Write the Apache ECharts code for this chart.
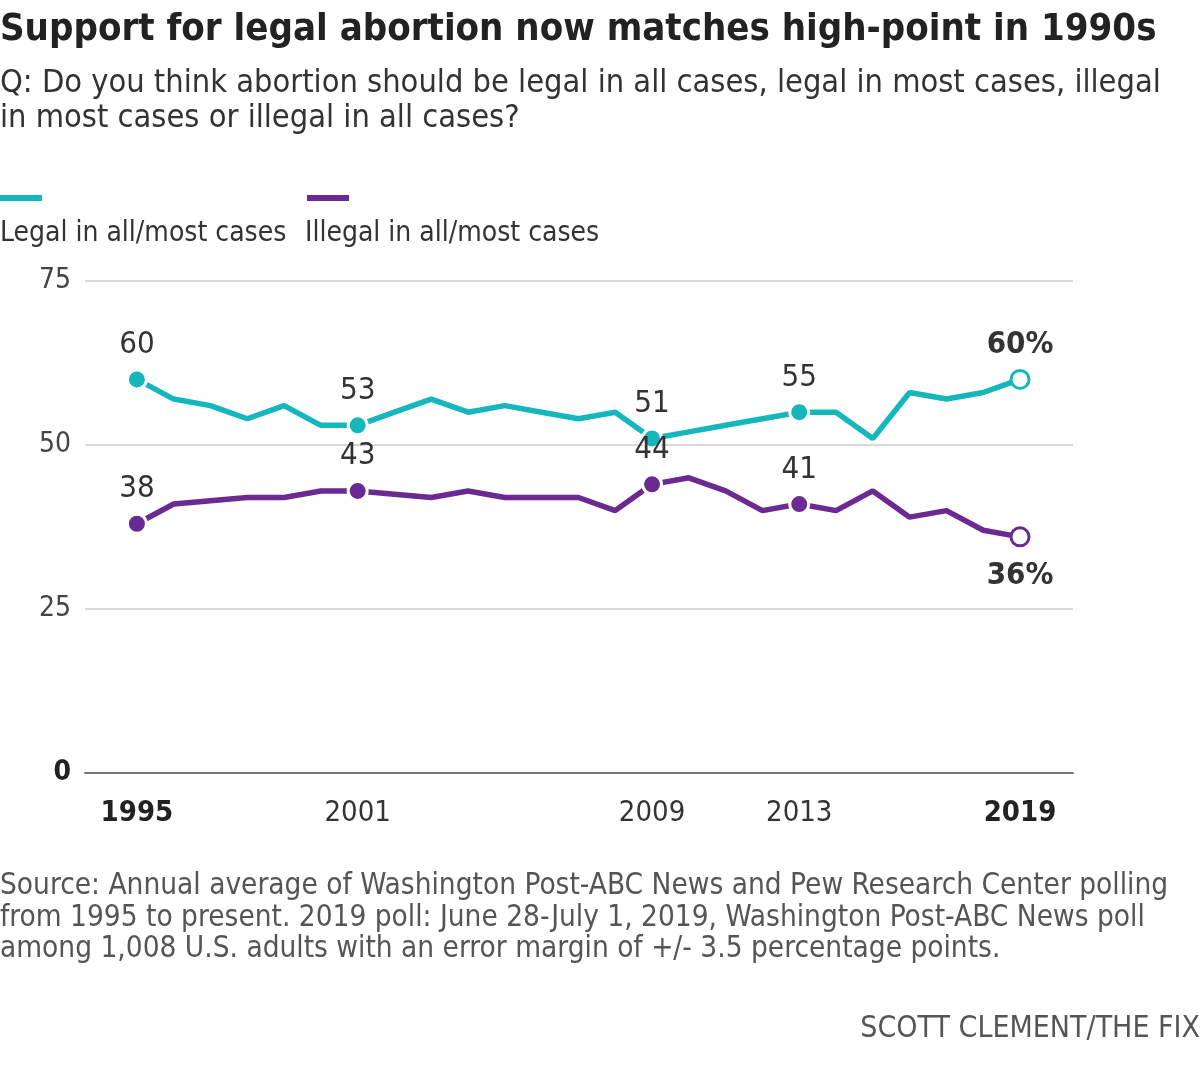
<!DOCTYPE html>
<html>
<head>
<meta charset="utf-8">
<script src="https://cdn.jsdelivr.net/npm/echarts@6/dist/echarts.min.js"></script>
<style>
html,body{margin:0;padding:0;background:#fff;}
#chart{width:1200px;height:1084px;}
</style>
</head>
<body>
<div id="chart"></div>
<script>
const years = [1995,1996,1997,1998,1999,2000,2001,2002,2003,2004,2005,2006,2007,2008,2009,2010,2011,2012,2013,2014,2015,2016,2017,2018,2019];
const legalValues = [60,57,56,54,56,53,53,55,57,55,56,55,54,55,51,52,53,54,55,55,51,58,57,58,60];
const illegalValues = [38,41,41.5,42,42,43,43,42.5,42,43,42,42,42,40,44,45,43,40,41,40,43,39,40,37,36];
const labeledYears = [1995,2001,2009,2013,2019];
const xTickLabels = [1995,2001,2009,2013,2019];
const boldXTicks = [1995,2019];
const seriesNames = ['Legal in all/most cases','Illegal in all/most cases'];
const colors = ['#16b6bd','#6a2a92'];

const FONT = '"Liberation Sans Narrow","DejaVu Sans Condensed",Arial,sans-serif';

function buildData(vals, color, lastBelow){
  return years.map((y,i)=>{
    const last = i === years.length-1;
    if (labeledYears.indexOf(y) >= 0){
      const below = last && lastBelow;
      return {
        value:[y, vals[i]],
        symbol:'circle',
        symbolSize: last ? 18 : 19,
        itemStyle: last ? {color:'#fff', borderColor:color, borderWidth:3} : {color:color, borderColor:'#fff', borderWidth:3},
        label:{
          show:true,
          position: below ? 'bottom' : 'top',
          distance: below ? 13 : 8,
          formatter: last ? vals[i] + '%' : String(vals[i]),
          fontFamily: FONT,
          fontSize: 31,
          fontWeight: last ? 'bold' : 'normal',
          color: '#333'
        }
      };
    }
    return {value:[y, vals[i]], symbol:'none'};
  });
}

const chart = echarts.init(document.getElementById('chart'), null, {renderer:'canvas'});
chart.setOption({
  animation:false,
  backgroundColor:'#fff',
  title:[
    {text:'Support for legal abortion now matches high-point in 1990s', left:0, top:11, padding:0,
     textStyle:{fontFamily:FONT, fontSize:38, fontWeight:'bold', color:'#222'}},
    {text:'Q: Do you think abortion should be legal in all cases, legal in most cases, illegal\nin most cases or illegal in all cases?', left:0, top:66, padding:0,
     textStyle:{fontFamily:FONT, fontSize:32.3, fontWeight:'normal', color:'#333', lineHeight:35}},
    {text:'Source: Annual average of Washington Post-ABC News and Pew Research Center polling\nfrom 1995 to present. 2019 poll: June 28-July 1, 2019, Washington Post-ABC News poll\namong 1,008 U.S. adults with an error margin of +/- 3.5 percentage points.', left:0, top:871, padding:0,
     textStyle:{fontFamily:FONT, fontSize:29.5, fontWeight:'normal', color:'#555', lineHeight:31.5}},
    {text:'SCOTT CLEMENT/THE FIX', right:0, top:1014, padding:0,
     textStyle:{fontFamily:FONT, fontSize:30, fontWeight:'normal', color:'#555'}}
  ],
  graphic:[
    {type:'rect', left:0, top:195, shape:{width:42, height:6}, style:{fill:colors[0]}},
    {type:'rect', left:307, top:195, shape:{width:42, height:6}, style:{fill:colors[1]}},
    {type:'text', left:0, top:220, style:{text:seriesNames[0], font:'28px ' + FONT, fill:'#333'}},
    {type:'text', left:305, top:220, style:{text:seriesNames[1], font:'28px ' + FONT, fill:'#333'}}
  ],
  grid:{left:85, right:127, top:281, bottom:311, containLabel:false},
  xAxis:{
    type:'value', min:1993.59, max:2020.44,
    splitLine:{show:false},
    axisLine:{show:true, onZero:false, lineStyle:{color:'#777', width:2}},
    axisTick:{show:false},
    axisLabel:{
      customValues: xTickLabels,
      margin: 26,
      fontFamily: FONT, fontSize: 29, color:'#333',
      formatter: v => boldXTicks.indexOf(v) >= 0 ? '{b|' + v + '}' : String(v),
      rich:{b:{fontFamily:FONT, fontSize:29, fontWeight:'bold', color:'#222'}}
    }
  },
  yAxis:{
    type:'value', min:0, max:75, interval:25,
    axisLine:{show:false}, axisTick:{show:false},
    splitLine:{show:true, lineStyle:{color:'#ccc', width:1.5}},
    axisLabel:{
      margin: 14,
      fontFamily: FONT, fontSize: 28, color:'#444',
      formatter: v => v === 0 ? '{b|0}' : String(v),
      rich:{b:{fontFamily:FONT, fontSize:28, fontWeight:'bold', color:'#222'}}
    }
  },
  series:[
    {name:seriesNames[0], type:'line', data:buildData(legalValues, colors[0], false),
     lineStyle:{color:colors[0], width:5.5}, itemStyle:{color:colors[0]}, z:3},
    {name:seriesNames[1], type:'line', data:buildData(illegalValues, colors[1], true),
     lineStyle:{color:colors[1], width:5.5}, itemStyle:{color:colors[1]}, z:3}
  ]
});
</script>
</body>
</html>
